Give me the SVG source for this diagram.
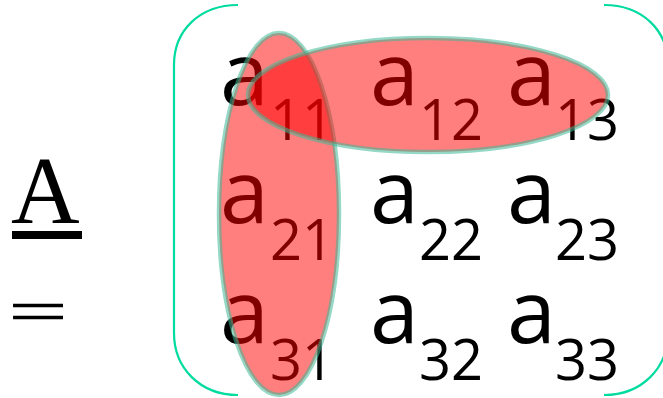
<svg xmlns="http://www.w3.org/2000/svg" width="663" height="398" viewBox="0 0 663 398">
<style>
.a{font-family:"Open Sans","Liberation Sans",sans-serif;font-size:88px;fill:#000}
.s{font-family:"Open Sans","Liberation Sans",sans-serif;font-size:56px;fill:#000}
.br{fill:none;stroke:#00dba0;stroke-width:2.2}
.el{fill:#ff0000;fill-opacity:0.5;stroke:#3cb896;stroke-opacity:0.55;stroke-width:4.5}
.serif{font-family:"Liberation Serif","Times New Roman",serif;font-size:95px;fill:#000}
</style>
<g id="lhs">
<text class="serif" x="11" y="223">A</text>
<rect x="12" y="231" width="70" height="8" fill="#000"/>
<text class="serif" transform="translate(8.5,331) scale(1.1,0.62)" x="0" y="0" stroke="#000" stroke-width="1.2">=</text>
</g>
<g id="brackets">
<path class="br" d="M238,5 C200,5 174,30 174,65 L174,333 C174,368 200,395 238,395"/>
<path class="br" d="M604,5 C642,5 668,30 668,65 L668,333 C668,368 642,395 604,395"/>
</g>
<g id="elements">
<g id="a11"><text class="a" x="220" y="105">a</text><text class="s" x="270" y="140">11</text></g>
<g id="a12"><text class="a" x="370" y="105">a</text><text class="s" x="419" y="140">12</text></g>
<g id="a13"><text class="a" x="507" y="105">a</text><text class="s" x="555" y="140">13</text></g>
<g id="a21"><text class="a" x="220" y="223">a</text><text class="s" x="270" y="260">21</text></g>
<g id="a22"><text class="a" x="370" y="223">a</text><text class="s" x="419" y="260">22</text></g>
<g id="a23"><text class="a" x="507" y="223">a</text><text class="s" x="555" y="260">23</text></g>
<g id="a31"><text class="a" x="220" y="343">a</text><text class="s" x="270" y="380">31</text></g>
<g id="a32"><text class="a" x="370" y="343">a</text><text class="s" x="419" y="380">32</text></g>
<g id="a33"><text class="a" x="507" y="343">a</text><text class="s" x="555" y="380">33</text></g>
</g>
<g id="highlights">
<ellipse id="col1" class="el" cx="279" cy="214" rx="60" ry="181"/>
<ellipse id="row1" class="el" cx="428" cy="95" rx="180" ry="57"/>
</g>
</svg>
